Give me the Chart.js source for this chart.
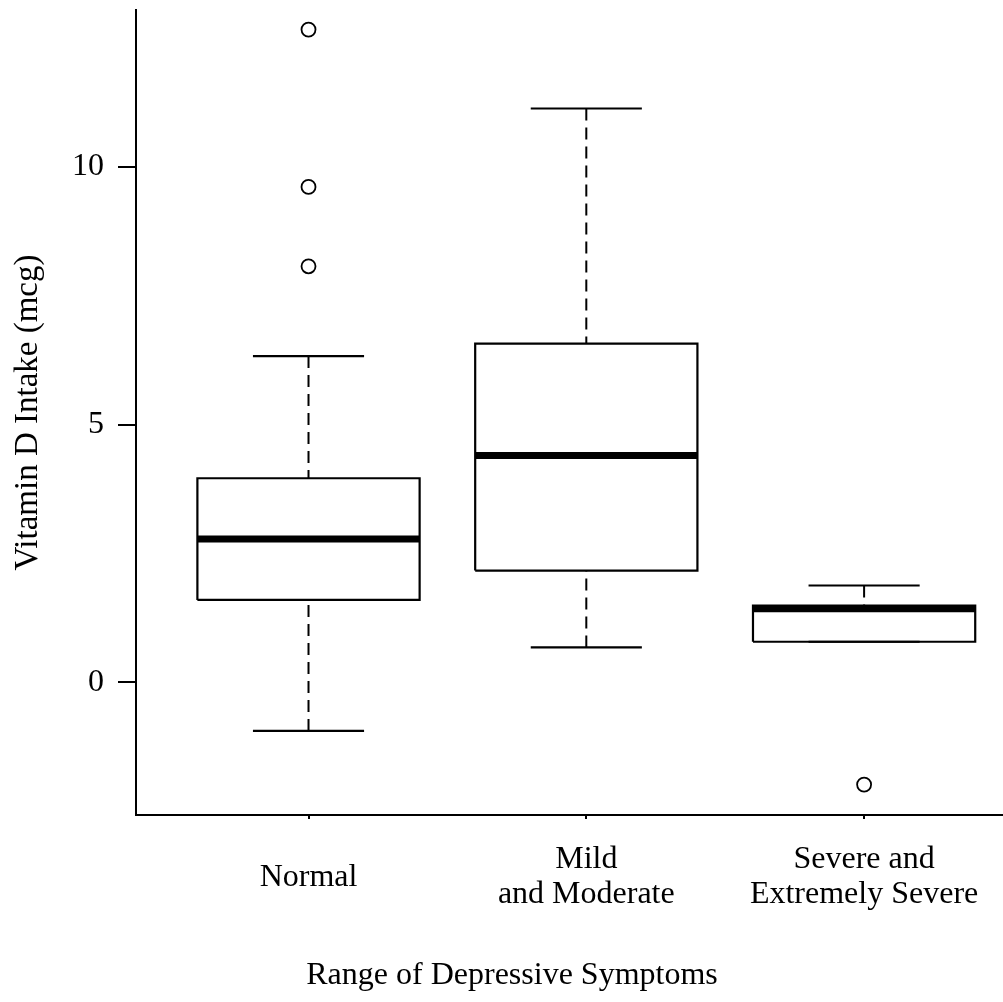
<!DOCTYPE html>
<html>
<head>
<meta charset="utf-8">
<script src="https://cdn.jsdelivr.net/npm/chart.js@4"></script>
<style>
  html, body { margin: 0; padding: 0; background: #fff; }
  #wrap { width: 1003px; height: 1002px; position: relative; }
</style>
</head>
<body>
<div id="wrap"><canvas id="boxChart"></canvas></div>
<script>
// Box plot summary values
const categories = [['Normal'], ['Mild', 'and Moderate'], ['Severe and', 'Extremely Severe']];
const lowerWhisker = [-0.94, 0.68, 0.79];
const q1 = [1.60, 2.17, 0.79];
const median = [2.78, 4.40, 1.43];
const q3 = [3.96, 6.57, 1.49];
const upperWhisker = [6.33, 11.13, 1.88];
const outliers = [[8.07, 9.61, 12.66], [], [-1.98]];
const yTicks = [0, 5, 10];

const boxHalf = 0.4;   // half box width, in x units
const capHalf = 0.2;   // half whisker cap width

// build line segments (null y breaks the line between boxes)
const boxPts = [], medPts = [], whiskPts = [], capPts = [], outPts = [];
categories.forEach((c, i) => {
    const x = i + 1;
    boxPts.push({x: x - boxHalf, y: q1[i]}, {x: x + boxHalf, y: q1[i]},
                {x: x + boxHalf, y: q3[i]}, {x: x - boxHalf, y: q3[i]},
                {x: x - boxHalf, y: q1[i]}, {x: x, y: null});
    medPts.push({x: x - boxHalf, y: median[i]}, {x: x + boxHalf, y: median[i]}, {x: x, y: null});
    // whiskers drawn from the cap toward the box, like R does
    whiskPts.push({x: x, y: upperWhisker[i]}, {x: x, y: q3[i]}, {x: x, y: null});
    whiskPts.push({x: x, y: lowerWhisker[i]}, {x: x, y: q1[i]}, {x: x, y: null});
    capPts.push({x: x - capHalf, y: upperWhisker[i]}, {x: x + capHalf, y: upperWhisker[i]}, {x: x, y: null});
    capPts.push({x: x - capHalf, y: lowerWhisker[i]}, {x: x + capHalf, y: lowerWhisker[i]}, {x: x, y: null});
    outliers[i].forEach(v => outPts.push({x: x, y: v}));
});

Chart.defaults.color = '#000';
Chart.defaults.font.family = '"Liberation Serif", "Times New Roman", serif';

const lineSet = (data, width, dash) => ({
    data: data,
    showLine: true,
    borderColor: '#000',
    borderWidth: width,
    borderDash: dash || [],
    borderCapStyle: 'butt',
    pointRadius: 0,
    fill: false,
    spanGaps: false
});

new Chart(document.getElementById('boxChart').getContext('2d'), {
    type: 'scatter',
    data: {
        datasets: [
            lineSet(whiskPts, 2, [12, 7]),
            lineSet(boxPts, 2.2),
            lineSet(capPts, 2.2),
            lineSet(medPts, 7),
            {
                data: outPts,
                pointStyle: 'circle',
                pointRadius: 7,
                pointBorderWidth: 1.8,
                pointBorderColor: '#000',
                pointBackgroundColor: 'rgba(0,0,0,0)',
                showLine: false
            }
        ]
    },
    options: {
        responsive: true,
        maintainAspectRatio: false,
        animation: false,
        layout: { autoPadding: false, padding: { top: 10, left: 21, right: 0, bottom: 0 } },
        plugins: {
            legend: { display: false },
            tooltip: { enabled: false },
            title: {
                display: true,
                position: 'bottom',
                text: 'Range of Depressive Symptoms',
                font: { size: 32, weight: 'normal', lineHeight: 1.2 },
                padding: { top: 0, bottom: 7 }
            }
        },
        scales: {
            x: {
                type: 'linear',
                min: 0.379,
                max: 3.5,
                afterBuildTicks: (scale) => { scale.ticks = [1, 2, 3].map(v => ({value: v})); },
                afterFit: (scale) => {
                    scale.height = 141.6;
                    scale.paddingLeft = 0;
                    scale.paddingRight = 0;
                },
                ticks: {
                    padding: 41,
                    crossAlign: 'center',
                    font: { size: 32, lineHeight: 1.08 },
                    callback: (value) => categories[value - 1]
                },
                grid: { drawOnChartArea: false, drawTicks: true, tickLength: 4, color: '#000', lineWidth: 2 },
                border: { display: true, color: '#000', width: 2 }
            },
            y: {
                type: 'linear',
                min: -2.57,
                max: 13.04,
                afterBuildTicks: (scale) => { scale.ticks = yTicks.map(v => ({value: v})); },
                afterFit: (scale) => {
                    scale.width = 115;
                    scale.paddingTop = 0;
                    scale.paddingBottom = 0;
                },
                ticks: {
                    padding: 14,
                    font: { size: 32 }
                },
                grid: { drawOnChartArea: false, drawTicks: true, tickLength: 18, color: '#000', lineWidth: 2 },
                border: { display: true, color: '#000', width: 2 },
                title: {
                    display: true,
                    text: 'Vitamin D Intake (mcg)',
                    font: { size: 33, lineHeight: 0.25 },
                    padding: { top: 3, bottom: 0 }
                }
            }
        }
    }
});
</script>
</body>
</html>
